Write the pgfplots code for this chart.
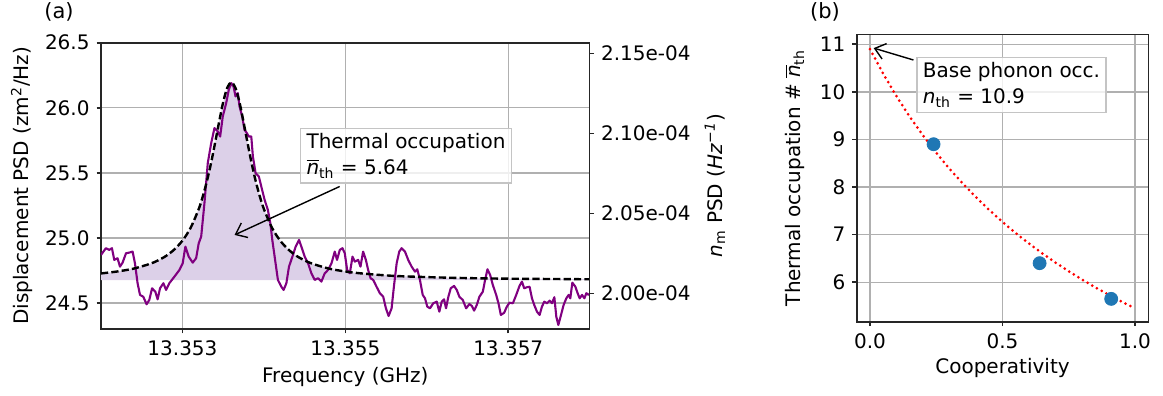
\documentclass[border=0pt]{standalone}
\usepackage{fontspec}
\setmainfont{DejaVu Sans}
\usepackage{amsmath}
\usepackage{pgfplots}
\usepackage{pgfplotstable}
\pgfplotsset{compat=1.18}
\usepgfplotslibrary{fillbetween}
\usetikzlibrary{arrows.meta}
\definecolor{fillpurple}{HTML}{DCD0E8}
\definecolor{mplblue}{HTML}{1F77B4}
\definecolor{gridgray}{HTML}{B0B0B0}
\definecolor{boxgray}{HTML}{C4C4C4}
\definecolor{trace}{HTML}{800080}

% x: frequency offset from 13.352 GHz, in MHz
\pgfplotstableread{
x y
0.000 24.869
0.060 24.921
0.101 24.908
0.134 24.921
0.163 24.831
0.203 24.844
0.233 24.779
0.265 24.810
0.307 24.882
0.347 24.887
0.388 24.895
0.417 24.805
0.449 24.652
0.479 24.562
0.519 24.548
0.560 24.490
0.593 24.523
0.627 24.613
0.667 24.587
0.695 24.528
0.725 24.613
0.766 24.652
0.799 24.600
0.839 24.652
0.901 24.702
0.963 24.754
1.003 24.805
1.036 24.933
1.077 24.856
1.126 24.810
1.168 24.844
1.200 24.959
1.230 25.010
1.270 25.267
1.311 25.575
1.353 25.728
1.393 25.844
1.434 25.818
1.463 25.779
1.495 25.933
1.537 26.036
1.569 26.138
1.599 26.190
1.627 26.164
1.652 26.087
1.680 26.113
1.701 26.010
1.734 25.933
1.762 25.831
1.791 25.805
1.815 25.779
1.845 25.779
1.865 25.625
1.898 25.498
1.938 25.472
1.968 25.395
2.009 25.292
2.049 25.215
2.079 25.113
2.103 24.985
2.132 24.856
2.172 24.677
2.214 24.625
2.242 24.600
2.276 24.652
2.308 24.779
2.350 24.856
2.390 24.933
2.431 24.985
2.460 24.933
2.501 24.856
2.542 24.805
2.583 24.728
2.624 24.677
2.665 24.690
2.706 24.664
2.747 24.728
2.788 24.754
2.830 24.805
2.870 24.895
2.898 24.831
2.932 24.908
2.965 24.921
2.993 24.882
3.022 24.754
3.055 24.728
3.088 24.856
3.116 24.818
3.157 24.831
3.186 24.779
3.218 24.895
3.252 24.831
3.280 24.754
3.310 24.690
3.342 24.677
3.383 24.625
3.424 24.575
3.465 24.548
3.498 24.459
3.531 24.400
3.568 24.459
3.596 24.625
3.630 24.805
3.662 24.895
3.691 24.921
3.732 24.895
3.772 24.831
3.814 24.779
3.855 24.741
3.883 24.759
3.916 24.677
3.950 24.562
3.978 24.536
4.006 24.472
4.039 24.459
4.080 24.498
4.122 24.510
4.154 24.433
4.183 24.510
4.212 24.528
4.236 24.459
4.265 24.548
4.294 24.613
4.335 24.631
4.368 24.600
4.400 24.548
4.442 24.523
4.483 24.459
4.523 24.492
4.553 24.477
4.581 24.441
4.614 24.485
4.646 24.548
4.688 24.587
4.716 24.677
4.745 24.759
4.778 24.715
4.811 24.638
4.852 24.562
4.880 24.498
4.909 24.408
4.950 24.425
4.983 24.472
5.015 24.502
5.057 24.498
5.098 24.562
5.138 24.631
5.168 24.664
5.196 24.613
5.230 24.621
5.262 24.625
5.291 24.536
5.319 24.485
5.353 24.433
5.385 24.408
5.414 24.472
5.442 24.510
5.476 24.498
5.508 24.518
5.537 24.498
5.566 24.544
5.590 24.395
5.615 24.331
5.648 24.408
5.680 24.485
5.713 24.536
5.742 24.562
5.762 24.536
5.787 24.656
5.824 24.625
5.852 24.575
5.877 24.536
5.906 24.562
5.935 24.536
5.959 24.575
5.988 24.562
6.000 24.570
}\tracedata

\pgfplotstableread{
x y
0.0 24.727
0.2 24.742
0.4 24.764
0.6 24.8005
0.7 24.827
0.8 24.862
0.9 24.911
1.0 24.979
1.1 25.077
1.2 25.222
1.25 25.319
1.3 25.435
1.35 25.572
1.4 25.728
1.45 25.891
1.5 26.043
1.55 26.154
1.6 26.195
1.65 26.154
1.7 26.043
1.75 25.891
1.8 25.728
1.85 25.572
1.9 25.435
1.95 25.319
2.0 25.222
2.1 25.077
2.2 24.979
2.3 24.911
2.4 24.862
2.5 24.827
2.6 24.8005
2.8 24.764
3.0 24.742
3.2 24.727
3.6 24.708
4.1 24.697
4.6 24.690
5.1 24.686
5.6 24.684
6.0 24.682
}\fitdata

\pgfplotstableread{
x y
0.00 10.900
0.05 10.381
0.10 9.909
0.15 9.478
0.20 9.083
0.25 8.720
0.30 8.385
0.35 8.074
0.40 7.786
0.45 7.517
0.50 7.267
0.55 7.032
0.60 6.8125
0.65 6.606
0.70 6.412
0.75 6.229
0.80 6.056
0.85 5.892
0.90 5.737
0.95 5.590
1.00 5.450
}\modeldata

\pgfplotstableread{
x y
0.24 8.90
0.64 6.40
0.91 5.65
}\measdata

\pgfplotsset{
  every axis/.append style={
    scale only axis,
    font=\fontsize{10}{12}\selectfont,
    tick label style={font=\fontsize{10}{12}\selectfont},
    label style={font=\fontsize{10}{12}\selectfont},
    /pgf/number format/assume math mode=true,
    axis line style={black!85, line width=0.8pt},
    tick style={black!85, line width=0.8pt},
    major tick length=2.2pt,
    tick align=outside,
    grid style={gridgray, line width=0.7pt},
  }
}

\begin{document}
\begin{tikzpicture}

% ---------- panel (a) ----------
\begin{axis}[
  at={(50.5pt,-164.5pt)}, anchor=south west,
  width=244.35pt, height=143.15pt,
  xmin=0, xmax=6, ymin=24.3, ymax=26.5,
  xtick={1,3,5}, xticklabels={13.353,13.355,13.357},
  ytick={24.5,25,25.5,26,26.5},
  yticklabel style={/pgf/number format/.cd, fixed, fixed zerofill, precision=1},
  xtick pos=bottom, ytick pos=left,
  grid=major,
  xlabel={Frequency (GHz)},
  ylabel={Displacement PSD (zm\textsuperscript{2}/Hz)},
  xlabel style={at={(axis description cs:0.5,-0.167)}, anchor=center},
  ylabel style={at={(axis description cs:-0.162,0.5)}, anchor=center},
]
\addplot[name path=fit, draw=none, forget plot] table[x=x,y=y] {\fitdata};
\path[name path=base] (axis cs:0,24.675) -- (axis cs:6,24.675);
\addplot[fillpurple, draw=none] fill between[of=fit and base];
\addplot[trace, line width=1.05pt, line join=round] table[x=x,y=y] {\tracedata};
\addplot[black, line width=1.2pt, dash pattern=on 3.6pt off 1.6pt, smooth] table[x=x,y=y] {\fitdata};
\draw[black, line width=0.7pt, -{Straight Barb[length=5pt,width=8pt]}] (axis cs:2.93,25.395) -- (axis cs:1.64,25.023);
\node[anchor=north west, draw=boxgray, line width=0.8pt, fill=white, fill opacity=0.8, text opacity=1, align=left, inner xsep=3pt, inner ysep=2.5pt, font=\fontsize{10}{13}\selectfont] at (axis cs:2.44,25.848)
  {Thermal occupation\\$\overline{\mbox{\itshape n}}_{\mbox{\fontsize{7}{8}\selectfont th}}$ = 5.64};
\end{axis}

% right y axis of panel (a)
\begin{axis}[
  at={(50.5pt,-164.5pt)}, anchor=south west,
  width=244.35pt, height=143.15pt,
  xmin=0, xmax=6, ymin=1.9777, ymax=2.15663,
  axis x line=none, axis y line*=right,
  ytick={2.00,2.05,2.10,2.15},
  yticklabels={2.00e-04,2.05e-04,2.10e-04,2.15e-04},
  ylabel={\textit{n}\textsubscript{m} PSD (\textit{Hz}\textsuperscript{\textit{−1}})},
  ylabel style={at={(axis description cs:1.256,0.5)}, anchor=center},
]
\addplot[draw=none] coordinates {(0,2.0)};
\end{axis}

% ---------- panel (b) ----------
\begin{axis}[
  at={(428.35pt,-160.85pt)}, anchor=south west,
  width=145.8pt, height=143.7pt,
  xmin=-0.05, xmax=1.05, ymin=5.17, ymax=11.21,
  xtick={0,0.5,1}, ytick={6,7,8,9,10,11},
  xticklabel style={/pgf/number format/.cd, fixed, fixed zerofill, precision=1},
  xtick pos=bottom, ytick pos=left,
  grid=major,
  xlabel={Cooperativity},
  ylabel={Thermal occupation \# $\overline{\mbox{\itshape n}}_{\mbox{\fontsize{7}{8}\selectfont th}}$},
  xlabel style={at={(axis description cs:0.5,-0.162)}, anchor=center},
  ylabel style={at={(axis description cs:-0.212,0.5)}, anchor=center},
]
\addplot[red, line width=1.5pt, line cap=round, dash pattern=on 0pt off 2.7pt] table[x=x,y=y] {\modeldata};
\addplot[only marks, mark=*, mark size=3.25pt, mplblue, mark options={draw=mplblue, fill=mplblue}] table[x=x,y=y] {\measdata};
\draw[black, line width=0.7pt, -{Straight Barb[length=5pt,width=8pt]}] (axis cs:0.164,10.67) -- (axis cs:0.014,10.92);
\node[anchor=north west, draw=boxgray, line width=0.8pt, fill=white, fill opacity=0.8, text opacity=1, align=left, inner xsep=3pt, inner ysep=2.5pt, font=\fontsize{10}{13}\selectfont] at (axis cs:0.174,10.74)
  {Base phonon occ.\\\textit{n}\textsubscript{th} = 10.9};
\end{axis}

\node at (29.5pt,-6pt) {\fontsize{10.5}{12}\selectfont (a)};
\node at (412.5pt,-6pt) {\fontsize{10.5}{12}\selectfont (b)};

\pgfresetboundingbox
\path[use as bounding box] (0,0) rectangle (581.5pt,-198pt);
\end{tikzpicture}
\end{document}
